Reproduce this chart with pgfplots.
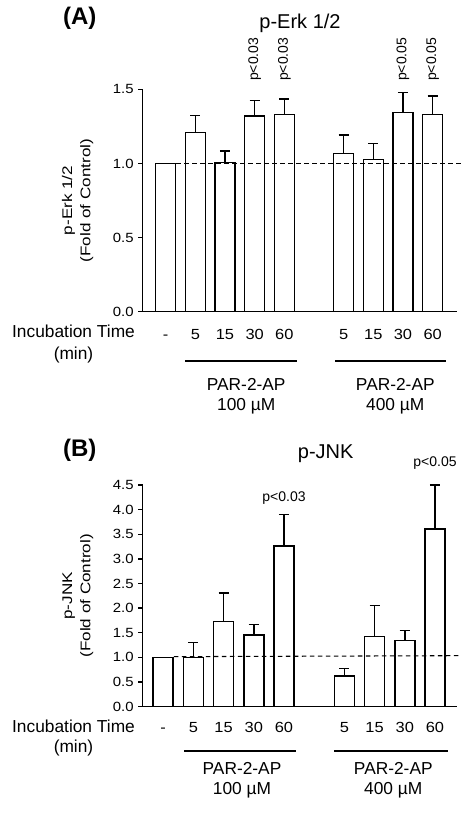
\documentclass[border=0pt]{standalone}
\usepackage{pgfplots}
\pgfplotsset{compat=1.18}
\usepackage{fontspec}
\setmainfont{Liberation Sans}
\newfontfamily\ylfont[FakeStretch=1.22]{Liberation Sans}
\newfontfamily\tkfont[FakeStretch=1.12]{Liberation Sans}
\newcommand{\fs}[2]{\fontsize{#1}{#2}\selectfont}
\pgfplotsset{
  myaxis/.style={
    scale only axis,
    anchor=south west,
    axis lines*=left,
    axis line style={line width=1pt,-},
    tick align=outside,
    major tick length=3.25pt,
    tick style={line width=1pt,black},
    xtick={0,1,2,3,4,6,7,8,9},
    xticklabels={-,5,15,30,60,5,15,30,60},
    x tick style={draw=none},
    yticklabel style={font=\tkfont\fs{10pt}{12pt}},
    ylabel style={align=center,font=\ylfont\fs{10.5pt}{13.6pt},anchor=center},
    clip=false,
    ymin=0,
    /pgf/number format/assume math mode=true,
  },
  mybar/.style={
    ybar, bar width=15pt, bar shift=0pt, draw=black, fill=white, line width=1.1pt,
    error bars/.cd, y dir=plus, y explicit,
    error bar style={line width=1.1pt,black},
    error mark options={rotate=90,line width=1.1pt,mark size=3.8pt,black},
  },
}
\tikzset{pv/.style={rotate=90,anchor=west,inner sep=0pt,font=\fs{10.5pt}{12pt}}}
\begin{document}
\begin{tikzpicture}
\path[use as bounding box] (0,0) rectangle (354pt,-609.75pt);
% ---------------- (A) ----------------
\begin{axis}[myaxis,
  at={(107.0pt,-233.8pt)},
  width=235.5pt, height=166.8pt,
  xmin=-0.775, xmax=9.81, ymax=1.5,
  ytick={0,0.5,1,1.5}, yticklabels={0.0,0.5,1.0,1.5},
  xticklabel style={font=\tkfont\fs{11pt}{13pt},text height=8pt,text depth=0pt,yshift=-6pt},
  ylabel={p-Erk 1/2\\(Fold of Control)},
  ylabel style={at={(axis description cs:-0.207,0.5)}},
]
\addplot[mybar] coordinates {
  (0,1.000) +- (0,0)
  (1,1.208) +- (0,0.114)
  (2,1.008) +- (0,0.077)
  (3,1.320) +- (0,0.104)
  (4,1.329) +- (0,0.106)
  (6,1.068) +- (0,0.124)
  (7,1.028) +- (0,0.105)
  (8,1.345) +- (0,0.132)
  (9,1.329) +- (0,0.126)
};
\draw[line width=0.8pt,dash pattern=on 3.5pt off 2.5pt] (axis cs:0.35,1) -- (axis cs:9.98,1);
\node[pv] at (axis cs:3,1.555) {p<0.03};
\node[pv] at (axis cs:4,1.555) {p<0.03};
\node[pv] at (axis cs:8,1.555) {p<0.05};
\node[pv] at (axis cs:9,1.555) {p<0.05};
\end{axis}
% ---------------- (B) ----------------
\begin{axis}[myaxis,
  at={(107.0pt,-530.0pt)},
  width=236pt, height=166.3pt,
  xmin=-0.68, xmax=9.74, ymax=4.5,
  ytick={0,0.5,...,4.5}, yticklabels={0.0,0.5,1.0,1.5,2.0,2.5,3.0,3.5,4.0,4.5},
  xticklabel style={font=\tkfont\fs{11pt}{13pt},text height=8pt,text depth=0pt,yshift=-4.5pt},
  ylabel={p-JNK\\(Fold of Control)},
  ylabel style={at={(axis description cs:-0.206,0.5)}},
]
\addplot[mybar] coordinates {
  (0,1.000) +- (0,0)
  (1,1.000) +- (0,0.300)
  (2,1.725) +- (0,0.582)
  (3,1.455) +- (0,0.210)
  (4,3.260) +- (0,0.637)
  (6,0.622) +- (0,0.149)
  (7,1.421) +- (0,0.636)
  (8,1.340) +- (0,0.203)
  (9,3.606) +- (0,0.894)
};
\draw[line width=0.8pt,dash pattern=on 3.5pt off 2.5pt] (axis cs:0.35,1.015) -- (axis cs:9.78,1.035);
\node[font=\fs{10.5pt}{12pt}] at (axis cs:4,4.24) {p<0.03};
\node[font=\fs{10.5pt}{12pt}] at (axis cs:9,4.94) {p<0.05};
\end{axis}
% ---------------- annotations (pixel frame) ----------------
\begin{scope}[x=0.75pt,y=-0.75pt]
\node[font=\bfseries\fs{18pt}{20pt}] at (79.7,18.3) {(A)};
\node[font=\fs{15pt}{18pt}] at (300,23.3) {p-Erk 1/2};
\node[font=\fs{13pt}{16.3pt},align=center] at (73.5,344) {Incubation Time\\(min)};
\draw[line width=1pt] (185,361) -- (296.7,361);
\draw[line width=1pt] (335,361) -- (446,361);
\node[font=\fs{13pt}{14.5pt},align=center] at (246.2,396.3) {PAR-2-AP\\100 µM};
\node[font=\fs{13pt}{14.5pt},align=center] at (395.3,396.3) {PAR-2-AP\\400 µM};
\node[font=\bfseries\fs{18pt}{20pt}] at (79.7,450) {(B)};
\node[font=\fs{15pt}{18pt}] at (325.7,453.3) {p-JNK};
\node[font=\fs{13pt}{15pt},align=center] at (73.5,738.3) {Incubation Time\\(min)};
\draw[line width=1pt] (184,751) -- (296,751);
\draw[line width=1pt] (334.3,751) -- (448.3,751);
\node[font=\fs{13pt}{15pt},align=center] at (242,780) {PAR-2-AP\\100 µM};
\node[font=\fs{13pt}{15pt},align=center] at (393.3,780) {PAR-2-AP\\400 µM};
\end{scope}
\end{tikzpicture}
\end{document}
